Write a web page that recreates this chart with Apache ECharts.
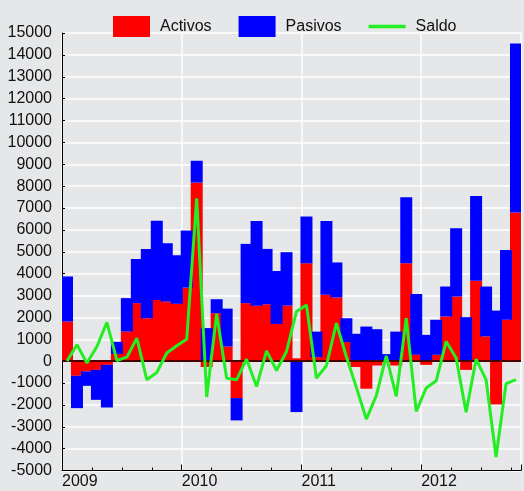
<!DOCTYPE html>
<html>
<head>
<meta charset="utf-8">
<script src="https://cdn.jsdelivr.net/npm/echarts@6/dist/echarts.min.js"></script>
<style>
  html, body { margin: 0; padding: 0; background: #e6e7e9; }
  #chart { width: 524px; height: 491px; }
</style>
</head>
<body>
<div id="chart"></div>
<script>
// meses desde enero 2009 hasta octubre 2012
var years = ['2009', '2010', '2011', '2012']
var months = []
for (var y = 0; y < years.length; y++) {
  for (var m = 1; m <= 12; m++) {
    if (months.length < 46) months.push(years[y] + '-' + (m < 10 ? '0' + m : m))
  }
}
var activos = [
  1810, -670, -470, -400, -170, 330, 1350, 2650, 1960, 2800, 2720, 2620,
  3360, 8160, -270, 2190, 670, -1690, 2650, 2530, 2600, 1700, 2540, 130,
  4470, 180, 3030, 2910, 870, -270, -1260, -200, -50, -200, 4470, 290,
  -170, 290, 2040, 2950, -400, 3680, 1130, -1980, 1890, 6790
]
var pasivos = [
  2060, -1480, -660, -1370, -1950, 550, 1530, 2020, 3170, 3620, 2670, 2220,
  2610, 1000, 1510, 640, 1730, -1020, 2710, 3880, 2530, 2420, 2440, -2330,
  2140, 1170, 3380, 1600, 1090, 1250, 1580, 1460, 320, 1350, 3020, 2780,
  1200, 1600, 1370, 3120, 2010, 3870, 2280, 2310, 3190, 7730
]
var saldo = [
  0, 750, -90, 670, 1770, 30, 180, 1050, -850, -520, 370, 700,
  1000, 7440, -1640, 2160, -780, -850, 90, -1160, 470, -430, 440, 2270,
  2570, -780, -210, 1740, 200, -1200, -2650, -1580, 240, -1610, 1960, -2300,
  -1230, -900, 900, 140, -2340, 90, -850, -4380, -1030, -850
]

var chart = echarts.init(document.getElementById('chart'))

chart.setOption({
  backgroundColor: '#e6e7e9',
  animation: false,
  textStyle: { fontFamily: 'Liberation Sans, Arial, sans-serif' },
  legend: {
    top: 11,
    left: 108,
    itemWidth: 37,
    itemHeight: 21,
    itemGap: 27,
    textStyle: { fontSize: 16, color: '#111', padding: [0, 0, 0, 5] },
    data: [
      { name: 'Activos', icon: 'rect' },
      { name: 'Pasivos', icon: 'rect' },
      { name: 'Saldo', icon: 'path://M0,0 L33,0 L33,3 L0,3 Z' }
    ]
  },
  grid: {
    left: 62,
    right: 0,
    top: 33,
    bottom: 20.5
  },
  xAxis: [
    {
      // eje de categorías para barras y línea (oculto)
      type: 'category',
      data: months,
      boundaryGap: true,
      axisLine: { show: false },
      axisTick: { show: false },
      axisLabel: { show: false },
      splitLine: { show: false }
    },
    {
      // eje visible: años y trimestres
      type: 'value',
      position: 'bottom',
      min: 0,
      max: 46,
      interval: 12,
      axisLine: { show: true, lineStyle: { color: '#000', width: 1 } },
      axisTick: { show: true, inside: true, length: 6, lineStyle: { color: '#000' } },
      minorTick: { show: true, splitNumber: 4, length: 3, lineStyle: { color: '#000' } },
      splitLine: { show: true, lineStyle: { color: '#ffffff', width: 1.5 } },
      axisLabel: {
        fontSize: 16,
        color: '#111',
        margin: 3,
        align: 'left',
        formatter: function (v) {
          return v % 12 === 0 ? years[v / 12] : ''
        }
      }
    }
  ],
  yAxis: {
    type: 'value',
    min: -5000,
    max: 15000,
    interval: 1000,
    axisLine: { show: true, lineStyle: { color: '#000', width: 1 } },
    axisTick: { show: true, inside: true, length: 3, lineStyle: { color: '#000' } },
    splitLine: { show: true, lineStyle: { color: '#ffffff', width: 1.5 } },
    axisLabel: {
      fontSize: 16,
      color: '#111',
      margin: 10,
      formatter: function (v) { return String(v) }
    }
  },
  series: [
    {
      name: 'Activos',
      type: 'bar',
      stack: 'total',
      barWidth: 12,
      itemStyle: { color: '#ff0000' },
      data: activos
    },
    {
      name: 'Pasivos',
      type: 'bar',
      stack: 'total',
      barWidth: 12,
      itemStyle: { color: '#0000ff' },
      data: pasivos
    },
    {
      name: 'Saldo',
      type: 'line',
      symbol: 'none',
      z: 5,
      lineStyle: { color: '#22ee22', width: 3 },
      itemStyle: { color: '#22ee22' },
      data: saldo,
      markLine: {
        silent: true,
        symbol: 'none',
        label: { show: false },
        lineStyle: { color: '#4a0000', width: 2, type: 'solid' },
        data: [{ yAxis: 0 }]
      }
    }
  ]
})
</script>
</body>
</html>
